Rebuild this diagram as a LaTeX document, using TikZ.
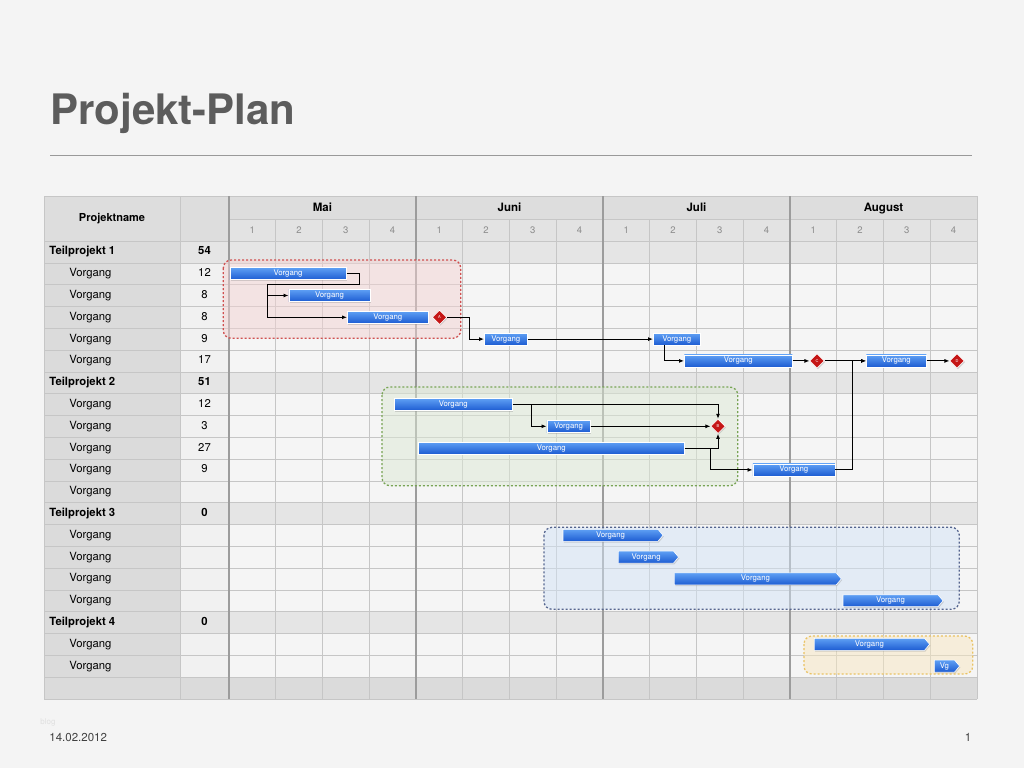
\documentclass[tikz,border=0pt]{standalone}
\usepackage{fontspec}
\setmainfont{TeX Gyre Heros}
\usetikzlibrary{shapes.geometric,shapes.symbols,arrows.meta,shadows}

\definecolor{slide}{HTML}{F4F4F4}
\definecolor{kopf}{HTML}{DDDDDD}
\definecolor{wochen}{HTML}{E3E3E3}
\definecolor{namecol}{HTML}{DBDBDB}
\definecolor{numcol}{HTML}{F1F1F1}
\definecolor{zelle}{HTML}{F5F5F5}
\definecolor{tpzeile}{HTML}{E5E5E5}
\definecolor{gitter}{HTML}{C6C6C6}
\definecolor{monat}{HTML}{9C9C9C}
\definecolor{titel}{HTML}{5C5C5C}
\definecolor{bartop}{HTML}{5E9FF4}
\definecolor{barbot}{HTML}{1D5CD2}
\definecolor{mrot}{HTML}{C51616}
\definecolor{grot}{HTML}{D05050}
\definecolor{ggruen}{HTML}{78A455}
\definecolor{gblau}{HTML}{55658F}
\definecolor{gblaufill}{HTML}{D2E3F5}
\definecolor{ggelb}{HTML}{EAC262}

\tikzset{
  vg/.style={draw=white, line width=.6pt, top color=bartop, bottom color=barbot,
    minimum height=12pt, inner sep=0pt, anchor=west, text=white,
    font=\fontsize{7.8}{8}\selectfont,
    drop shadow={opacity=.3, shadow xshift=.8pt, shadow yshift=-1.2pt}},
  vgpfeil/.style={vg, shape=signal, signal to=east, signal pointer angle=100},
  meilenstein/.style={diamond, draw=white, line width=.6pt, fill=mrot,
    minimum size=14.5pt, inner sep=0pt, text=white, font=\fontsize{4}{4}\selectfont,
    drop shadow={opacity=.3, shadow xshift=.8pt, shadow yshift=-1.2pt}},
  gruppe/.style={rounded corners=8pt, line width=1.3pt, dash pattern=on 2pt off 2pt},
  vname/.style={anchor=west, inner sep=0pt, text height=8.5pt, text depth=2.5pt,
    font=\fontsize{11.3}{12}\selectfont},
  tpname/.style={vname, font=\fontsize{11.3}{12}\selectfont\bfseries},
  vnum/.style={inner sep=0pt, text height=8.5pt, text depth=2.5pt,
    font=\fontsize{11.3}{12}\selectfont},
  tpnum/.style={vnum, font=\fontsize{11.3}{12}\selectfont\bfseries},
  monatname/.style={inner sep=0pt, text height=8.5pt, text depth=2.5pt,
    font=\fontsize{11.5}{12}\selectfont\bfseries},
  woche/.style={text=black!45, font=\fontsize{9.5}{10}\selectfont},
}

\begin{document}
\begin{tikzpicture}[x=1pt, y=-1pt, >={Latex[length=5pt,width=4pt]}, line width=.9pt]
\useasboundingbox (0,0) rectangle (1024,768);
\fill[slide] (0,0) rectangle (1024,768);

% Titel
\node[anchor=base west, inner sep=0pt, text=titel, font=\fontsize{42}{44}\selectfont\bfseries]
  (titel) at (50,124) {Projekt-Plan};
\draw[black!40, line width=.8pt] (50,155) -- (972,155);

% Tabelle
\fill[kopf] (44,196) rectangle (977,241);
\fill[wochen] (229,219) rectangle (977,241);
\fill[namecol] (44,241) rectangle (180,699);
\fill[numcol] (180,241) rectangle (229,699);
\fill[zelle] (229,241) rectangle (977,699);
\foreach \i in {0,6,12,17}
  \fill[tpzeile] (180,{241+21.8*\i}) rectangle (977,{241+21.8*(\i+1)});
\fill[namecol] (44,677.2) rectangle (977,699);

\begin{scope}[gitter, line width=.6pt]
  \foreach \i in {0,...,21}
    \draw (44,{241+21.8*\i}) -- (977,{241+21.8*\i});
  \draw (44,196) -- (977,196);
  \draw (229,219) -- (977,219);
  \foreach \x in {44,180,977}
    \draw (\x,196) -- (\x,699);
  \foreach \k in {1,2,3,5,6,7,9,10,11,13,14,15}
    \draw ({229+46.75*\k},219) -- ({229+46.75*\k},699);
\end{scope}
\foreach \x in {229,416,603,790}
  \draw[monat, line width=1.5pt] (\x,196) -- (\x,699);

% Gruppen
\draw[gruppe, draw=grot, fill=grot!25, fill opacity=.5] (223.3,260) rectangle (460.7,338.3);
\draw[gruppe, draw=ggruen, fill=ggruen!25, fill opacity=.5] (382,387) rectangle (737.7,485.7);
\draw[gruppe, draw=gblau, fill=gblaufill, fill opacity=.5] (544,527.3) rectangle (959.3,609.3);
\draw[gruppe, draw=ggelb, fill=ggelb!40, fill opacity=.5] (804,636) rectangle (972.7,674);

% Kopfzeilen
\node[font=\fontsize{11}{12}\selectfont\bfseries] (kopf) at (112,218.5) {Projektname};
\node[monatname] (mai) at (322.5,208) {Mai};
\node[monatname] (juni) at (509.5,208) {Juni};
\node[monatname] (juli) at (696.5,208) {Juli};
\node[monatname] (aug) at (883.5,208) {August};
\foreach \k in {0,...,15} {
  \pgfmathtruncatemacro\w{mod(\k,4)+1}
  \node[woche] (w\k) at ({229+46.75*(\k+0.5)},230) {\w};
}

% Zeilen
\foreach \i/\t/\n in {0/1/54, 6/2/51, 12/3/0, 17/4/0} {
  \node[tpname] (T\t) at (49,{251.9+21.8*\i}) {Teilprojekt \t};
  \node[tpnum] (S\t) at (204.5,{251.9+21.8*\i}) {\n};
}
\foreach \i/\n in {1/12, 2/8, 3/8, 4/9, 5/17, 7/12, 8/3, 9/27, 10/9, 11/{},
                   13/{}, 14/{}, 15/{}, 16/{}, 18/{}, 19/{}} {
  \node[vname] (N\i) at (69,{251.9+21.8*\i}) {Vorgang};
  \node[vnum] (Z\i) at (204.5,{251.9+21.8*\i}) {\n};
}

% Teilprojekt 1
\node[vg, minimum width=116.5pt] (V11) at (229.5,273.7) {Vorgang};
\node[vg, minimum width=81.5pt] (V12) at (288.5,295.5) {Vorgang};
\node[vg, minimum width=81pt] (V13) at (347,317.3) {Vorgang};
\node[meilenstein] (MA) at (439.5,317.3) {A};
\node[vg, minimum width=43pt] (V14) at (484,339.1) {Vorgang};
\node[vg, minimum width=47pt] (V14b) at (653,339.1) {Vorgang};
\node[vg, minimum width=108pt] (V15) at (684,360.9) {Vorgang};
\node[meilenstein] (MC) at (817,360.9) {C};
\node[vg, minimum width=60pt] (V15b) at (866,360.9) {Vorgang};
\node[meilenstein] (MD) at (957,360.9) {D};

% Teilprojekt 2
\node[vg, minimum width=118pt] (V21) at (394,404.5) {Vorgang};
\node[vg, minimum width=43.5pt] (V22) at (546.5,426.3) {Vorgang};
\node[meilenstein] (MB) at (718,426.3) {B};
\node[vg, minimum width=266pt] (V23) at (418,448.1) {Vorgang};
\node[vg, minimum width=82pt] (V24) at (752.5,469.9) {Vorgang};

% Teilprojekt 3 und 4
\node[vgpfeil, minimum width=100pt] (V31) at (562.7,535.3) {Vorgang};
\node[vgpfeil, minimum width=60pt] (V32) at (618.3,557.1) {Vorgang};
\node[vgpfeil, minimum width=166.7pt] (V33) at (674.3,578.9) {Vorgang};
\node[vgpfeil, minimum width=100pt] (V34) at (842.7,600.7) {Vorgang};
\node[vgpfeil, minimum width=115.3pt] (V41) at (814,644.3) {Vorgang};
\node[vgpfeil, minimum width=25.3pt] (V42) at (934,666.1) {Vg};

% Abhaengigkeiten
\coordinate (k1) at (267.7,284);
\draw (V11.east) -- ++(13,0) |- (k1);
\draw[->] (k1) |- (V12.west);
\draw[->] (k1) |- (V13.west);
\draw[->] (MA.east) -- ++(22.5,0) |- (V14.west);
\draw[->] (V14.east) -- (V14b.west);
\draw[->] ([xshift=11pt]V14b.south west) |- (V15.west);
\draw[->] (V15.east) -- (MC.west);
\draw[->] (MC.east) -- (V15b.west);
\draw[->] (V15b.east) -- (MD.west);
\draw[->] (V24.east) -- ++(17,0) |- (V15b.west);

\draw[->] (V21.east) -| (MB.north);
\draw[->] ([xshift=18.6pt]V21.east) |- (V22.west);
\draw[->] (V22.east) -- (MB.west);
\draw[->] (V23.east) -| (MB.south);
\draw[->] ([xshift=25.7pt]V23.east) |- (V24.west);

% Fusszeile
\node[anchor=west, inner sep=0pt, text=black!12, font=\fontsize{8}{9}\selectfont] (blog) at (40,722) {blog};
\node[anchor=west, inner sep=0pt, text=black!75, font=\fontsize{11.5}{12}\selectfont] (datum) at (49,737) {14.02.2012};
\node[inner sep=0pt, text=black!75, font=\fontsize{11.5}{12}\selectfont] (seite) at (968,737) {1};
\end{tikzpicture}
\end{document}
